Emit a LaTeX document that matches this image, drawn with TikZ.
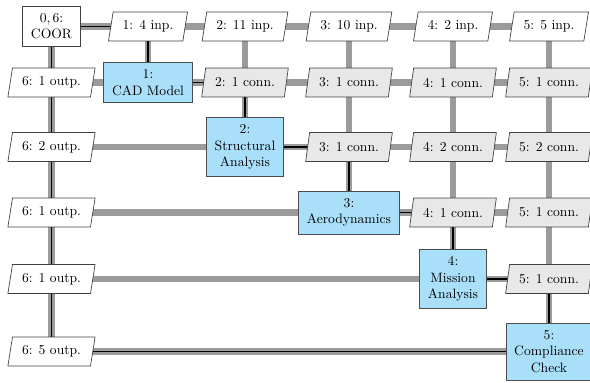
\documentclass[tikz,border=0pt]{standalone}
\usetikzlibrary{shapes.geometric,backgrounds}
\definecolor{funcblue}{RGB}{170,223,250}
\definecolor{connfill}{RGB}{232,232,232}
\definecolor{datagray}{RGB}{155,155,155}
\tikzset{
  coorbox/.style={rectangle, draw=black!75, fill=white, align=center,
    inner xsep=6pt, inner ysep=5.5pt, line width=0.5pt},
  funcbox/.style={rectangle, draw=black!70, fill=funcblue, align=center,
    inner xsep=6pt, inner ysep=5.5pt, line width=0.5pt},
  inpbox/.style={trapezium, trapezium left angle=75, trapezium right angle=105,
    trapezium stretches=true,
    draw=black!75, fill=white, inner xsep=7pt, inner ysep=2pt,
    minimum height=21.3pt, line width=0.5pt},
  connbox/.style={inpbox, fill=connfill},
  dataline/.style={draw=datagray, line width=4.6pt},
  procline/.style={draw=black, line width=1.4pt}
}
% column and row positions of the matrix
\def\ca{51.5}\def\cb{148}\def\cc{245}\def\cd{349}\def\ce{453}\def\cf{549}
\def\ra{26.5}\def\rb{82.5}\def\rc{147}\def\rd{212.5}\def\re{279}\def\rf{351.5}
\begin{document}
\begin{tikzpicture}[x=0.735pt, y=-0.735pt]
\useasboundingbox (0,0) rectangle (590,383);

% driver
\node[coorbox] (coor) at (\ca,\ra) {$0,6$:\\COOR};

% disciplines on the diagonal
\node[funcbox] (cad)  at (\cb,\rb) {1:\\CAD Model};
\node[funcbox] (str)  at (\cc,\rc) {2:\\Structural\\Analysis};
\node[funcbox] (aero) at (\cd,\rd) {3:\\Aerodynamics};
\node[funcbox] (mis)  at (\ce,\re) {4:\\Mission\\Analysis};
\node[funcbox] (cmp)  at (\cf,\rf) {5:\\Compliance\\Check};

% inputs along the top row
\node[inpbox] (in1) at (\cb,\ra) {1: 4 inp.};
\node[inpbox] (in2) at (\cc,\ra) {2: 11 inp.};
\node[inpbox] (in3) at (\cd,\ra) {3: 10 inp.};
\node[inpbox] (in4) at (\ce,\ra) {4: 2 inp.};
\node[inpbox] (in5) at (\cf,\ra) {5: 5 inp.};

% outputs in the first column
\node[inpbox] (out1) at (\ca,\rb) {6: 1 outp.};
\node[inpbox] (out2) at (\ca,\rc) {6: 2 outp.};
\node[inpbox] (out3) at (\ca,\rd) {6: 1 outp.};
\node[inpbox] (out4) at (\ca,\re) {6: 1 outp.};
\node[inpbox] (out5) at (\ca,\rf) {6: 5 outp.};

% couplings
\node[connbox] (c12) at (\cc,\rb) {2: 1 conn.};
\node[connbox] (c13) at (\cd,\rb) {3: 1 conn.};
\node[connbox] (c14) at (\ce,\rb) {4: 1 conn.};
\node[connbox] (c15) at (\cf,\rb) {5: 1 conn.};
\node[connbox] (c23) at (\cd,\rc) {3: 1 conn.};
\node[connbox] (c24) at (\ce,\rc) {4: 2 conn.};
\node[connbox] (c25) at (\cf,\rc) {5: 2 conn.};
\node[connbox] (c34) at (\ce,\rd) {4: 1 conn.};
\node[connbox] (c35) at (\cf,\rd) {5: 1 conn.};
\node[connbox] (c45) at (\cf,\re) {5: 1 conn.};

\begin{scope}[on background layer]
  % data connections
  \draw[dataline] (coor.center) -- (in5.center);
  \draw[dataline] (out1.center) -- (c15.center);
  \draw[dataline] (out2.center) -- (c25.center);
  \draw[dataline] (out3.center) -- (c35.center);
  \draw[dataline] (out4.center) -- (c45.center);
  \draw[dataline] (out5.center) -- (cmp.center);
  \draw[dataline] (coor.center) -- (out5.center);
  \draw[dataline] (in1.center) -- (cad.center);
  \draw[dataline] (in2.center) -- (str.center);
  \draw[dataline] (in3.center) -- (aero.center);
  \draw[dataline] (in4.center) -- (mis.center);
  \draw[dataline] (in5.center) -- (cmp.center);
  % process chain
  \draw[procline] (coor.center) -- (in1.center) -- (cad.center)
    -- (c12.center) -- (str.center) -- (c23.center) -- (aero.center)
    -- (c34.center) -- (mis.center) -- (c45.center) -- (cmp.center)
    -- (out5.center) -- (coor.center);
\end{scope}
\end{tikzpicture}
\end{document}
